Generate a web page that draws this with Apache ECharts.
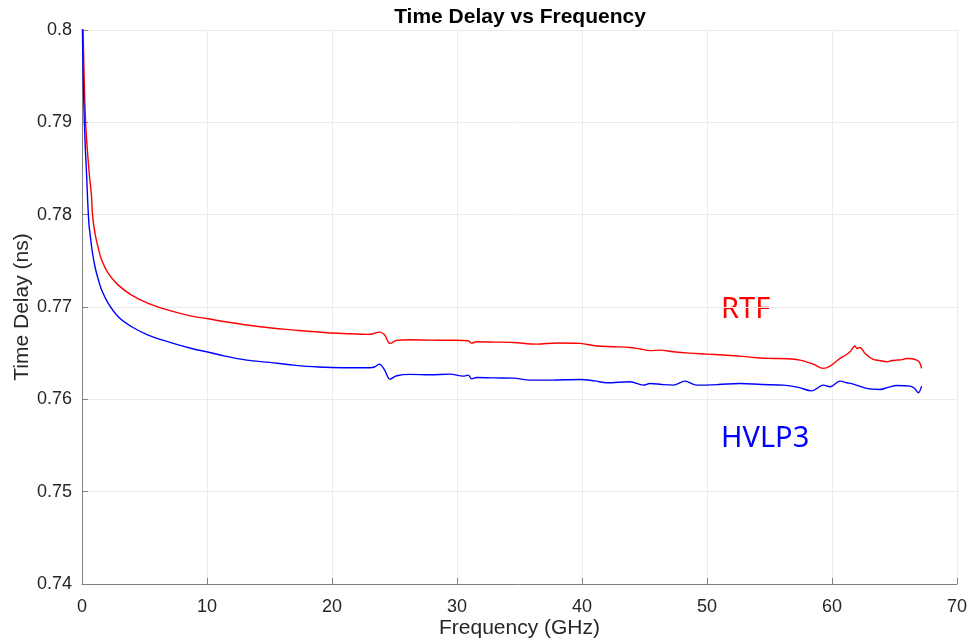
<!DOCTYPE html>
<html>
<head>
<meta charset="utf-8">
<script src="https://cdn.jsdelivr.net/npm/echarts@6/dist/echarts.min.js"></script>
<style>html,body{margin:0;padding:0;background:#fff}#c{width:973px;height:641px}</style>
</head>
<body>
<div id="c"></div>
<script>
const chartTitle = 'Time Delay vs Frequency';
const xName = 'Frequency (GHz)';
const yName = 'Time Delay (ns)';
const xTicks = [0, 10, 20, 30, 40, 50, 60, 70];
const yTicks = [0.74, 0.75, 0.76, 0.77, 0.78, 0.79, 0.8];

const rtfFreq = [0.08, 0.18, 0.29, 0.44, 0.59, 0.75, 0.84, 1.04, 1.3, 1.57, 2.1, 2.9, 3.97, 5.3, 6.9, 8.77, 9.97, 11.44, 14.24, 17.0, 19.57, 21.5, 22.77, 23.3, 23.79, 24.2, 24.64, 25.17, 26.24, 27.84, 29.5, 30.9, 31.17, 31.57, 33.0, 34.5, 36.37, 38.0, 39.84, 41.17, 42.5, 43.84, 44.64, 45.44, 46.24, 47.3, 48.6, 49.97, 51.3, 52.64, 54.0, 55.3, 56.4, 57.44, 58.5, 59.3, 59.84, 60.64, 61.1, 61.44, 61.84, 62.0, 62.24, 62.64, 63.3, 63.8, 64.37, 64.8, 65.17, 65.6, 65.97, 66.4, 66.77, 67.0, 67.17];
const rtfDelay = [0.8005, 0.7945, 0.7900, 0.7868, 0.7843, 0.7822, 0.7800, 0.77797, 0.7764, 0.77508, 0.77364, 0.77237, 0.77129, 0.77039, 0.76966, 0.76901, 0.76876, 0.7684, 0.76786, 0.7675, 0.76721, 0.7671, 0.76703, 0.7671, 0.76728, 0.7670, 0.76606, 0.76638, 0.76645, 0.76641, 0.7664, 0.76634, 0.76609, 0.76623, 0.7662, 0.76616, 0.76598, 0.7661, 0.76606, 0.76577, 0.7657, 0.76562, 0.76545, 0.76528, 0.76533, 0.76515, 0.7650, 0.7649, 0.7648, 0.76468, 0.7645, 0.76443, 0.7644, 0.76425, 0.76381, 0.76335, 0.7636, 0.76443, 0.7648, 0.76515, 0.76577, 0.7655, 0.76562, 0.76497, 0.76432, 0.7642, 0.76407, 0.7642, 0.76425, 0.7643, 0.76443, 0.7644, 0.76425, 0.7640, 0.76335];

const hvlpFreq = [0.03, 0.1, 0.19, 0.28, 0.37, 0.45, 0.56, 0.64, 0.8, 1.04, 1.3, 1.57, 2.1, 2.9, 3.97, 5.3, 6.9, 8.77, 9.97, 11.44, 13.17, 15.0, 16.91, 18.9, 20.91, 23.04, 23.4, 23.79, 24.2, 24.64, 25.17, 26.24, 27.84, 29.44, 30.5, 30.9, 31.17, 31.57, 33.0, 34.5, 35.84, 37.8, 39.84, 41.0, 41.97, 43.84, 44.9, 45.44, 46.4, 47.3, 48.24, 49.17, 50.9, 52.64, 54.4, 56.1, 57.3, 58.37, 59.3, 59.84, 60.64, 61.2, 61.7, 62.77, 63.84, 64.5, 65.17, 66.24, 66.6, 66.9, 67.17];
const hvlpDelay = [0.8005, 0.7945, 0.7900, 0.7868, 0.7843, 0.78158, 0.7789, 0.77797, 0.7762, 0.77436, 0.7730, 0.77183, 0.77039, 0.76894, 0.76786, 0.76696, 0.76623, 0.76551, 0.76515, 0.76468, 0.76425, 0.7640, 0.76371, 0.7635, 0.76342, 0.76342, 0.7635, 0.76381, 0.7632, 0.76219, 0.76255, 0.7627, 0.76266, 0.76273, 0.76251, 0.76262, 0.76222, 0.76237, 0.76232, 0.7623, 0.76208, 0.7621, 0.76215, 0.7620, 0.76179, 0.7619, 0.76154, 0.76172, 0.7616, 0.76154, 0.76197, 0.76154, 0.7616, 0.76172, 0.7616, 0.76154, 0.7613, 0.76092, 0.76154, 0.76136, 0.76197, 0.7618, 0.76165, 0.76118, 0.76107, 0.7613, 0.7615, 0.76143, 0.7612, 0.76071, 0.76143];

const labelRTF = 'RTF';
const labelHVLP = 'HVLP3';

function zip(a, b) { return a.map((v, i) => [v, b[i]]); }

const chart = echarts.init(document.getElementById('c'), null, { renderer: 'canvas' });
const fam = 'Liberation Sans, Arial, sans-serif';
const axisFont = { color: '#262626', fontSize: 18, fontFamily: fam };

chart.setOption({
  animation: false,
  backgroundColor: '#ffffff',
  title: {
    text: chartTitle, left: 515, top: 2, textAlign: 'center',
    textStyle: { fontSize: 21, fontWeight: 'bold', color: '#000', fontFamily: fam }
  },
  grid: { left: 82, right: 16, top: 30, bottom: 57, containLabel: false, outerBoundsMode: 'none' },
  xAxis: {
    type: 'value', min: 0, max: 70, interval: 10,
    name: xName, nameLocation: 'middle', nameGap: 34, nameMoveOverlap: false,
    nameTextStyle: { color: '#262626', fontSize: 21, fontFamily: fam },
    axisLine: { show: true, onZero: false, lineStyle: { color: '#808080', width: 1 } },
    axisTick: { show: true, inside: true, length: 6, lineStyle: { color: '#808080' } },
    axisLabel: Object.assign({ margin: 14, formatter: v => xTicks.includes(v) ? String(v) : '' }, axisFont),
    splitLine: { show: true, lineStyle: { color: '#ebebeb', width: 1 } }
  },
  yAxis: {
    type: 'value', min: 0.74, max: 0.8, interval: 0.01,
    name: yName, nameLocation: 'middle', nameGap: 49, nameMoveOverlap: false,
    nameTextStyle: { color: '#262626', fontSize: 21, fontFamily: fam },
    axisLine: { show: true, lineStyle: { color: '#808080', width: 1 } },
    axisTick: { show: true, inside: true, length: 6, lineStyle: { color: '#808080' } },
    axisLabel: Object.assign({ margin: 10, formatter: v => {
      const r = Math.round(v * 100) / 100;
      return yTicks.some(t => Math.abs(t - r) < 1e-9) ? String(parseFloat(r.toFixed(2))) : '';
    } }, axisFont),
    splitLine: { show: true, lineStyle: { color: '#ebebeb', width: 1 } }
  },
  series: [
    { name: labelRTF, type: 'line', data: zip(rtfFreq, rtfDelay), showSymbol: false, smooth: 0.35, clip: true,
      lineStyle: { color: '#ff0000', width: 1.4 }, itemStyle: { color: '#ff0000' } },
    { name: labelHVLP, type: 'line', data: zip(hvlpFreq, hvlpDelay), showSymbol: false, smooth: 0.35, clip: true,
      lineStyle: { color: '#0000ff', width: 1.4 }, itemStyle: { color: '#0000ff' } }
  ],
  graphic: [
    { type: 'text', left: 721, top: 295, style: { text: labelRTF, fill: '#ff0000', fontSize: 29, fontFamily: 'Noto Sans, sans-serif' } },
    { type: 'text', left: 721, top: 424, style: { text: labelHVLP, fill: '#0000ff', fontSize: 29, fontFamily: 'Noto Sans, sans-serif' } }
  ]
});
</script>
</body>
</html>
